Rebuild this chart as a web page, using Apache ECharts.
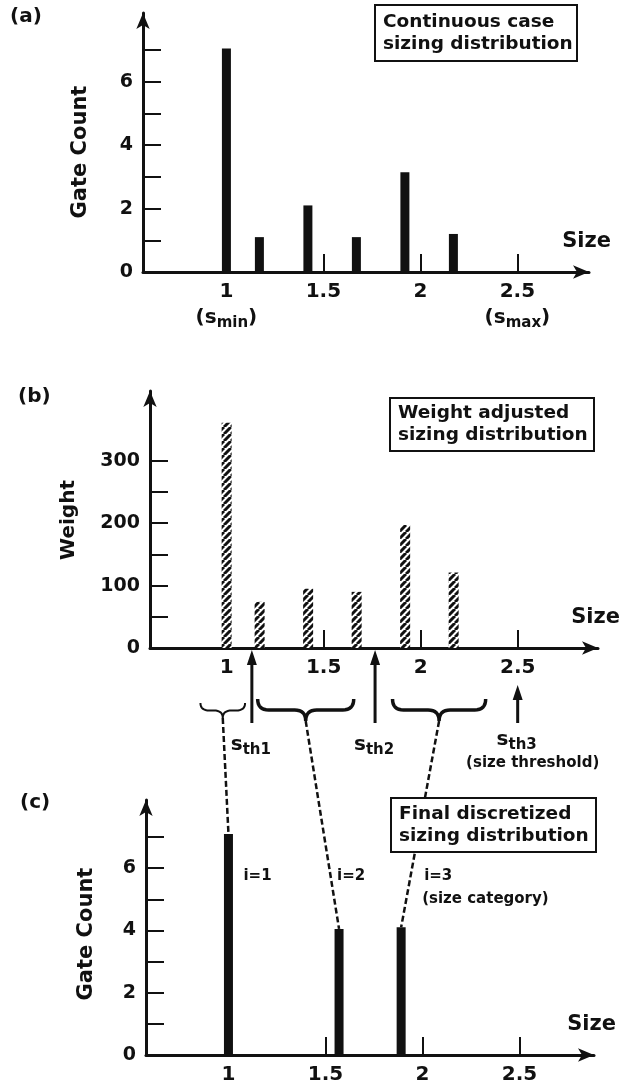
<!DOCTYPE html>
<html>
<head>
<meta charset="utf-8">
<script src="https://cdn.jsdelivr.net/npm/echarts@6/dist/echarts.min.js"></script>
<style>
  html, body { margin: 0; padding: 0; background: #fff; }
  #chart { width: 634px; height: 1088px; }
</style>
</head>
<body>
<div id="chart"></div>
<script>
// (a) continuous case sizing distribution
const sizesA = [1.0, 1.17, 1.42, 1.67, 1.92, 2.17];
const countsA = [7.05, 1.1, 2.1, 1.1, 3.15, 1.2];
// (b) weight adjusted sizing distribution
const sizesB = [1.0, 1.17, 1.42, 1.67, 1.92, 2.17];
const weightsB = [361, 74, 95, 90, 197, 121];
// (c) final discretized sizing distribution
const sizesC = [1.0, 1.57, 1.89];
const countsC = [7.1, 4.05, 4.1];
const categoryNames = ['i=1', 'i=2', 'i=3'];

// thresholds and the size ranges merged into each category
const thresholds = [1.13, 1.765, 2.5];
const thresholdNames = ['th1', 'th2', 'th3'];
const groupRanges = [[0.865, 1.095], [1.16, 1.655], [1.855, 2.335]];

// ticks and labels
const sizeTicks = [1, 1.5, 2, 2.5];
const countTicks = [1, 2, 3, 4, 5, 6, 7];
const countLabels = [0, 2, 4, 6];
const weightTicks = [50, 100, 150, 200, 250, 300];
const weightLabels = [0, 100, 200, 300];
const sizeNotes = { 1: 'min', 2.5: 'max' };

const FONT = 'DejaVu Sans';
const INK = '#111';

const chart = echarts.init(document.getElementById('chart'));

// diagonal hatch for panel (b)
function hatch() {
  const n = 7;
  const c = document.createElement('canvas');
  c.width = n; c.height = n;
  const g = c.getContext('2d');
  g.fillStyle = '#fff';
  g.fillRect(0, 0, n, n);
  g.strokeStyle = INK;
  g.lineWidth = 3;
  g.beginPath();
  [-n, 0, n].forEach(x0 => { g.moveTo(x0, n); g.lineTo(x0 + n, 0); });
  g.stroke();
  return c;
}

const rich = {
  p: { fontFamily: FONT, fontWeight: 'bold', fontSize: 20, color: INK, fill: INK, lineHeight: 26, verticalAlign: 'middle' },
  sub: { fontFamily: FONT, fontWeight: 'bold', fontSize: 15, color: INK, fill: INK, lineHeight: 16, verticalAlign: 'bottom' }
};

function xAxis(gi, min, max, notes) {
  return {
    type: 'value', gridIndex: gi, min: min, max: max,
    axisLine: { show: true, onZero: false, lineStyle: { color: INK, width: 3 }, symbol: ['none', 'arrow'], symbolSize: [10, 16] },
    axisTick: { show: true, inside: true, length: 18, customValues: sizeTicks, lineStyle: { color: INK, width: 2 } },
    axisLabel: {
      customValues: sizeTicks, margin: 7, color: INK, fontFamily: FONT, fontWeight: 'bold', fontSize: 20, lineHeight: 26,
      rich: rich,
      formatter: v => (notes && sizeNotes[v]) ? v + '\n{p|(s}{sub|' + sizeNotes[v] + '}{p|)}' : String(v)
    },
    splitLine: { show: false }
  };
}

function yAxis(gi, max, ticks, labels) {
  return {
    type: 'value', gridIndex: gi, min: 0, max: max,
    axisLine: { show: true, lineStyle: { color: INK, width: 3 }, symbol: ['none', 'arrow'], symbolSize: [10, 16] },
    axisTick: { show: true, inside: true, length: 18, customValues: ticks, lineStyle: { color: INK, width: 2 } },
    axisLabel: { customValues: labels, margin: 10, color: INK, fontFamily: FONT, fontWeight: 'bold', fontSize: 19 },
    splitLine: { show: false }
  };
}

chart.setOption({
  animation: false,
  grid: [
    { left: 143, top: 13, width: 446, height: 259 },
    { left: 150, top: 391, width: 448, height: 257 },
    { left: 146, top: 800, width: 448, height: 258 }
  ],
  xAxis: [xAxis(0, 0.57, 2.869, true), xAxis(1, 0.605, 2.914, false), xAxis(2, 0.575, 2.884, false)],
  yAxis: [yAxis(0, 8.17, countTicks, countLabels), yAxis(1, 412, weightTicks, weightLabels), yAxis(2, 8.19, countTicks, countLabels)],
  series: [
    {
      type: 'bar', xAxisIndex: 0, yAxisIndex: 0, barWidth: 9,
      itemStyle: { color: INK },
      data: sizesA.map((s, i) => [s, countsA[i]])
    },
    {
      type: 'bar', xAxisIndex: 1, yAxisIndex: 1, barWidth: 10,
      itemStyle: { color: { image: hatch(), repeat: 'repeat' } },
      data: sizesB.map((s, i) => [s, weightsB[i]])
    },
    {
      type: 'bar', xAxisIndex: 2, yAxisIndex: 2, barWidth: 9,
      itemStyle: { color: INK },
      data: sizesC.map((s, i) => [s, countsC[i]])
    }
  ]
});

const P = (gi, x, y) => chart.convertToPixel({ xAxisIndex: gi, yAxisIndex: gi }, [x, y]);

function text(x, y, str, size, extra) {
  return Object.assign({
    type: 'text', x: x, y: y, z: 20,
    style: Object.assign({ text: str, fill: INK, fontFamily: FONT, fontWeight: 'bold', fontSize: size, textAlign: 'left', textVerticalAlign: 'middle' }, (extra && extra.style) || {})
  }, extra ? { rotation: extra.rotation || 0 } : {});
}

function quad(a, c, b) {
  const pts = [];
  for (let i = 0; i <= 8; i++) {
    const t = i / 8, u = 1 - t;
    pts.push([u * u * a[0] + 2 * u * t * c[0] + t * t * b[0], u * u * a[1] + 2 * u * t * c[1] + t * t * b[1]]);
  }
  return pts;
}

function brace(x0, x1, yTop, depth) {
  const xm = (x0 + x1) / 2, yMid = yTop + depth * 0.5, yTip = yTop + depth;
  const r = Math.min(11, (x1 - x0) / 5);
  return [].concat(
    quad([x0, yTop], [x0, yMid], [x0 + r, yMid]),
    quad([xm - r, yMid], [xm, yMid], [xm, yTip]),
    quad([xm, yTip], [xm, yMid], [xm + r, yMid]),
    quad([x1 - r, yMid], [x1, yMid], [x1, yTop])
  );
}

const graphic = [];
const axisB = P(1, 1, 0)[1];
const axisC = P(2, 1, 0)[1];

// braces under panel (b) and dashed links to panel (c)
groupRanges.forEach((g, k) => {
  const x0 = P(1, g[0], 0)[0], x1 = P(1, g[1], 0)[0];
  const small = (x1 - x0) < 60;
  const yTop = axisB + (small ? 55 : 51);
  const depth = small ? 15 : 22;
  graphic.push({ type: 'polyline', z: 10, shape: { points: brace(x0, x1, yTop, depth) }, style: { stroke: INK, lineWidth: small ? 2 : 3.5, fill: null } });
  const top = P(2, sizesC[k], countsC[k]);
  graphic.push({ type: 'line', z: 10, shape: { x1: (x0 + x1) / 2, y1: yTop + depth, x2: top[0], y2: top[1] }, style: { stroke: INK, lineWidth: 2.5, lineDash: [6, 3] } });
});

// threshold arrows
thresholds.forEach((t, k) => {
  const x = P(1, t, 0)[0];
  const tipY = k < 2 ? axisB + 2 : axisB + 37;
  const botY = axisB + 75;
  graphic.push({ type: 'line', z: 10, shape: { x1: x, y1: botY, x2: x, y2: tipY + 10 }, style: { stroke: INK, lineWidth: 3 } });
  graphic.push({ type: 'polygon', z: 10, shape: { points: [[x, tipY], [x - 5, tipY + 15], [x + 5, tipY + 15]] }, style: { fill: INK } });
  graphic.push({
    type: 'text', x: x - 1, y: axisB + (k < 2 ? 97 : 92), z: 20,
    style: { text: '{p|s}{sub|' + thresholdNames[k] + '}', textAlign: 'center', textVerticalAlign: 'middle', rich: rich, fill: INK }
  });
  if (k === 2) {
    graphic.push(text(x + 15, axisB + 115, '(size threshold)', 15, { style: { textAlign: 'center' } }));
  }
});

// category labels in panel (c)
const labelDx = [15, -2, 23];
categoryNames.forEach((n, k) => {
  const x = P(2, sizesC[k], 0)[0] + labelDx[k];
  graphic.push(text(x, axisC - 179, n, 15));
  if (k === 2) graphic.push(text(x - 2, axisC - 156, '(size category)', 15));
});

// boxed titles
[
  [375, 5, 202, 56, 'Continuous case\nsizing distribution'],
  [390, 398, 204, 53, 'Weight adjusted\nsizing distribution'],
  [391, 798, 205, 54, 'Final discretized\nsizing distribution']
].forEach(b => {
  graphic.push({ type: 'rect', z: 30, shape: { x: b[0], y: b[1], width: b[2], height: b[3] }, style: { fill: '#fff', stroke: INK, lineWidth: 2 } });
  graphic.push({
    type: 'text', x: b[0] + 8, y: b[1] + b[3] / 2, z: 31,
    style: { text: b[4], fill: INK, fontFamily: FONT, fontWeight: 'bold', fontSize: 18.5, lineHeight: 22, textAlign: 'left', textVerticalAlign: 'middle' }
  });
});

// panel letters, axis names, "Size"
graphic.push(text(10, 17, '(a)', 20));
graphic.push(text(18, 397, '(b)', 20));
graphic.push(text(20, 803, '(c)', 20));
graphic.push(text(81, 152, 'Gate Count', 21, { rotation: Math.PI / 2, style: { textAlign: 'center' } }));
graphic.push(text(69, 520, 'Weight', 20, { rotation: Math.PI / 2, style: { textAlign: 'center' } }));
graphic.push(text(87, 934, 'Gate Count', 21, { rotation: Math.PI / 2, style: { textAlign: 'center' } }));
[0, 1, 2].forEach(gi => {
  const end = P(gi, [2.869, 2.914, 2.884][gi], 0);
  graphic.push(text(end[0] + 22, end[1] - 30, 'Size', 21, { style: { textAlign: 'right' } }));
});

chart.setOption({ graphic: graphic });
</script>
</body>
</html>
